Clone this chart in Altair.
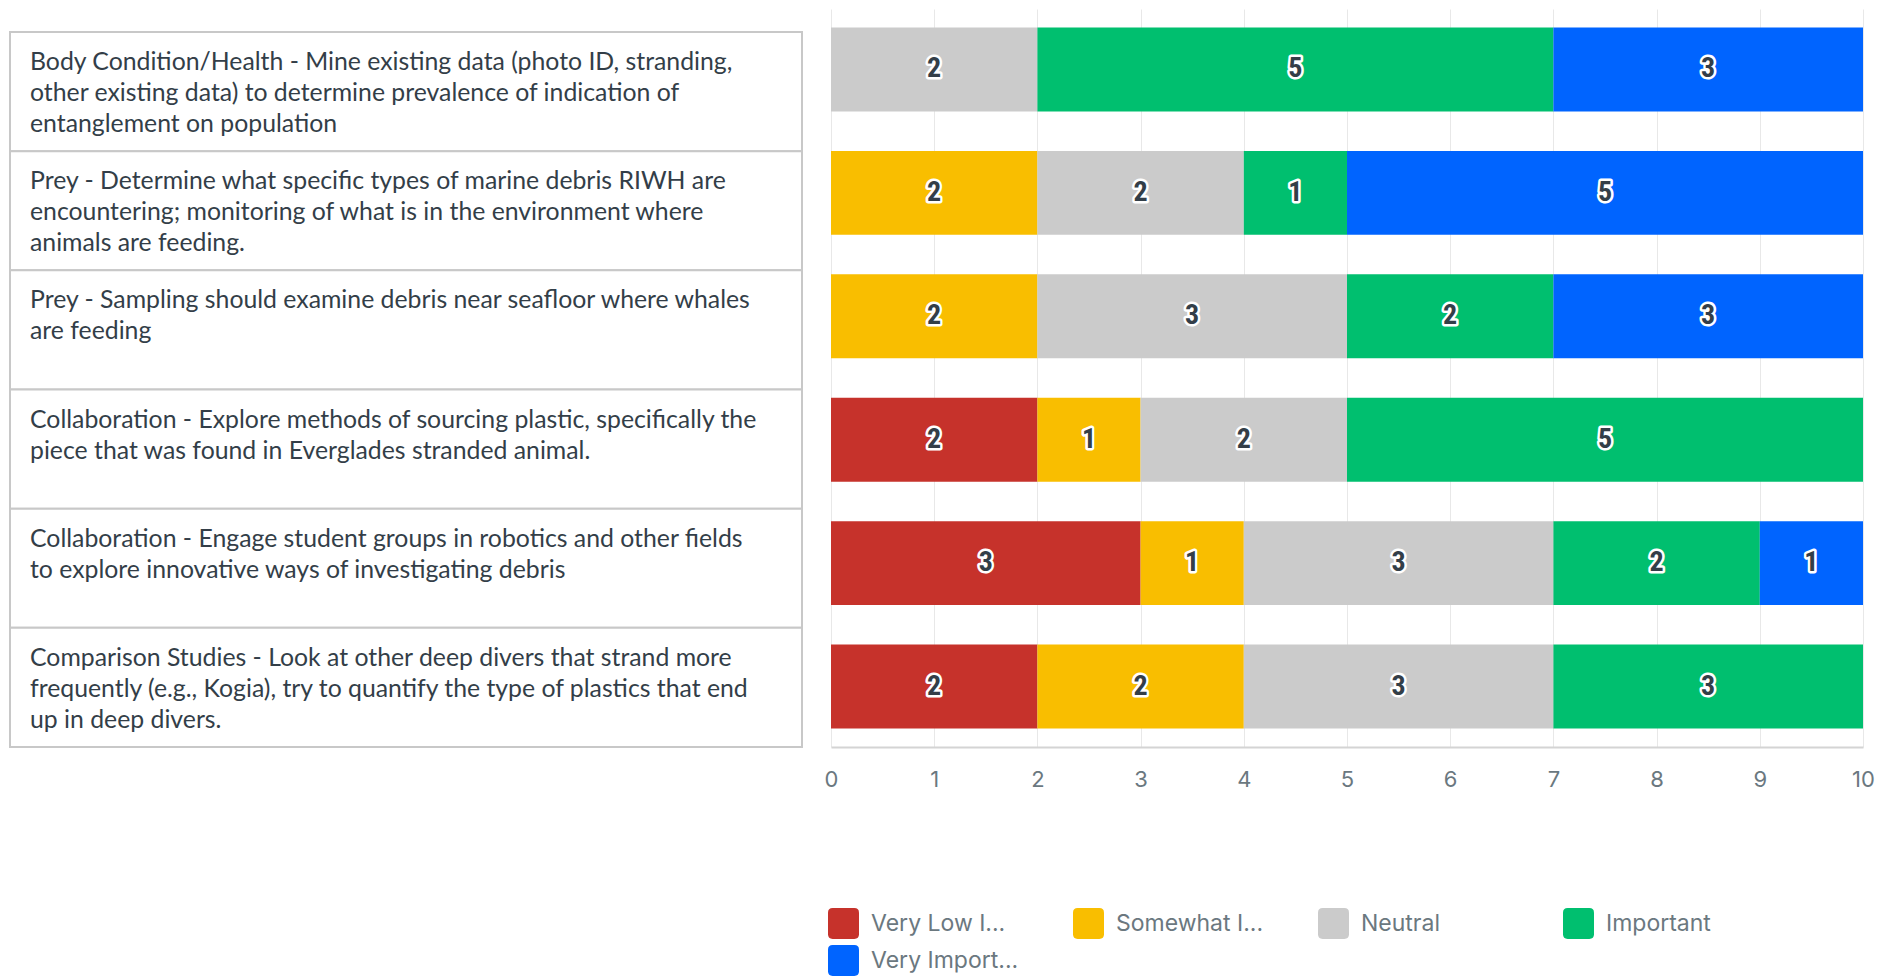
import altair as alt
import pandas as pd

# ---------------- data ----------------
statement_lines = [
    ["Body Condition/Health - Mine existing data (photo ID, stranding,",
     "other existing data) to determine prevalence of indication of",
     "entanglement on population"],
    ["Prey - Determine what specific types of marine debris RIWH are",
     "encountering; monitoring of what is in the environment where",
     "animals are feeding."],
    ["Prey - Sampling should examine debris near seafloor where whales",
     "are feeding"],
    ["Collaboration - Explore methods of sourcing plastic, specifically the",
     "piece that was found in Everglades stranded animal."],
    ["Collaboration - Engage student groups in robotics and other fields",
     "to explore innovative ways of investigating debris"],
    ["Comparison Studies - Look at other deep divers that strand more",
     "frequently (e.g., Kogia), try to quantify the type of plastics that end",
     "up in deep divers."],
]
statements = [" ".join(l) for l in statement_lines]

categories = ["Very Low Importance", "Somewhat Important", "Neutral",
              "Important", "Very Important"]
legend_labels = ["Very Low I...", "Somewhat I...", "Neutral",
                 "Important", "Very Import..."]
colors = ["#C6322B", "#F9BE00", "#CBCBCB", "#00BF6F", "#0064FF"]

very_low = [0, 0, 0, 2, 3, 2]
somewhat = [0, 2, 2, 1, 1, 2]
neutral = [2, 2, 3, 2, 3, 3]
important = [5, 1, 2, 5, 2, 3]
very_important = [3, 5, 3, 0, 1, 0]
series = [very_low, somewhat, neutral, important, very_important]

x_ticks = list(range(0, 11))

# ---------------- tables ----------------
recs = []
for ci, (cat, vals) in enumerate(zip(categories, series)):
    for si, v in enumerate(vals):
        if v > 0:
            recs.append({"statement": statements[si], "category": cat,
                         "order": ci, "count": v})
df = pd.DataFrame(recs)

left_df = pd.DataFrame({
    "statement": statements,
    "text": ["\n".join(l) for l in statement_lines],
    "x0": [0] * len(statements),
    "x1": [1] * len(statements),
})

narrow = "'Roboto Condensed', 'Liberation Sans Narrow', 'DejaVu Sans Condensed', Roboto, sans-serif"
ui_font = "Inter, Roboto, sans-serif"

# ---------------- left: statement table ----------------
PANEL_H = 738
ly_scale = alt.Scale(range=[23, PANEL_H], paddingInner=0, paddingOuter=0)
boxes = alt.Chart(left_df).mark_rect(fill="white", stroke="#c8c8c8", strokeWidth=2).encode(
    x=alt.X("x0:Q", scale=alt.Scale(domain=[0, 1], nice=False), axis=None),
    x2="x1:Q",
    y=alt.Y("statement:N", sort=statements, axis=None, scale=ly_scale),
)
texts = alt.Chart(left_df).mark_text(
    align="left", baseline="top", dx=20, dy=18, lineBreak="\n", lineHeight=31,
    font="Lato", fontSize=24.8, color="#333e48"
).encode(
    x=alt.X("x0:Q"),
    y=alt.Y("statement:N", sort=statements, axis=None, bandPosition=0),
    text="text:N",
)
left = alt.layer(boxes, texts).properties(width=792, height=PANEL_H)

# ---------------- right: stacked bars ----------------
label_expr = "".join(
    f"datum.label === '{c}' ? '{l}' : " for c, l in zip(categories, legend_labels)
) + "datum.label"

base = alt.Chart(df).transform_stack(
    stack="count", groupby=["statement"],
    sort=[alt.SortField(field="order", order="ascending")],
    as_=["x0", "x1"],
).transform_calculate(mid="(datum.x0 + datum.x1) / 2")

yenc = alt.Y("statement:N", sort=statements, axis=None,
             scale=alt.Scale(paddingInner=0.32, paddingOuter=0.15))

bars = base.mark_bar().encode(
    x=alt.X("x0:Q", scale=alt.Scale(domain=[0, 10], nice=False),
            axis=alt.Axis(values=x_ticks, title=None, format="d", grid=True,
                          gridColor="#e8e8e8", gridWidth=1, ticks=False,
                          domainColor="#d4d4d4", domainWidth=2,
                          labelFlush=False,
                          labelFont=ui_font, labelFontSize=22,
                          labelColor="#6b787f", labelPadding=22)),
    x2="x1:Q",
    y=yenc,
    color=alt.Color("category:N", scale=alt.Scale(domain=categories, range=colors),
                    legend=alt.Legend(
                        title=None, orient="none", legendX=818, legendY=899,
                        direction="horizontal", columns=4, gridAlign="all",
                        columnPadding=54, rowPadding=6,
                        symbolType="M-0.7,-1L0.7,-1Q1,-1 1,-0.7L1,0.7Q1,1 0.7,1L-0.7,1Q-1,1 -1,0.7L-1,-0.7Q-1,-1 -0.7,-1Z",
                        symbolSize=961, symbolStrokeWidth=0, symbolOpacity=1,
                        labelFont=ui_font, labelFontSize=23, labelColor="#6b787f",
                        labelOffset=12, labelExpr=label_expr, labelLimit=300)),
)

halo = base.mark_text(
    font=narrow, fontSize=28, fontWeight="bold", fill="#333e48",
    stroke="white", strokeWidth=5, strokeJoin="round", baseline="middle"
).encode(x="mid:Q", y=yenc, text="count:Q")

lab = base.mark_text(
    font=narrow, fontSize=28, fontWeight="bold", fill="#333e48", baseline="middle"
).encode(x="mid:Q", y=yenc, text="count:Q")

right = alt.layer(bars, halo, lab).properties(width=1032, height=PANEL_H)

chart = alt.hconcat(left, right, spacing=19).properties(
    padding={"left": 0, "top": 0, "right": 0, "bottom": 0}
).configure_view(stroke="transparent")

chart.save("out.html", embed_options={"renderer": "svg", "actions": False})
